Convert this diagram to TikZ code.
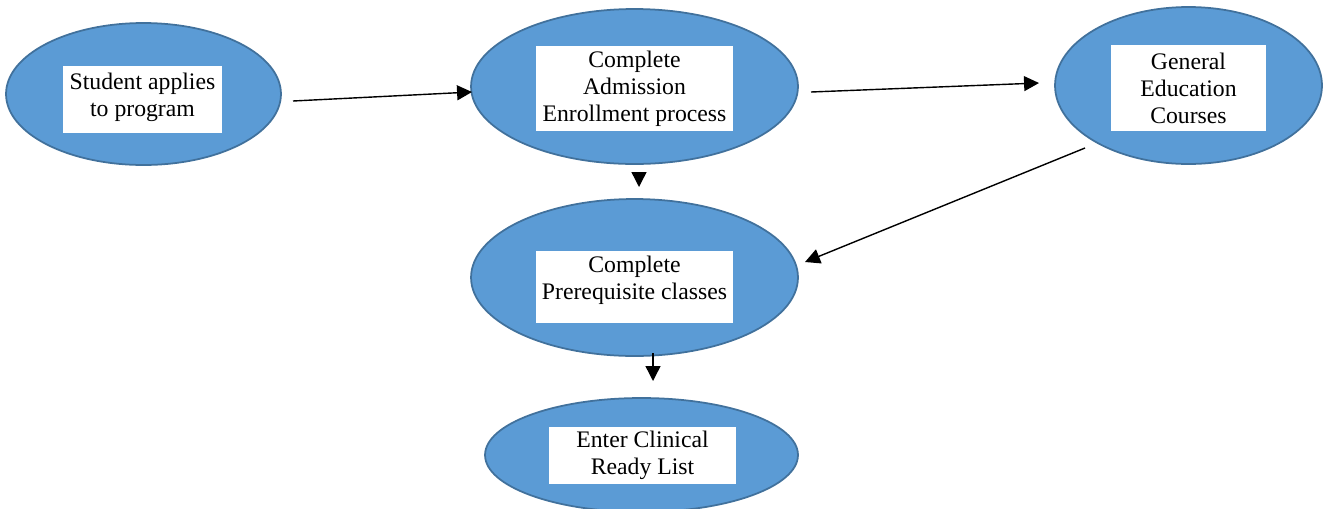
\documentclass[tikz,border=0pt]{standalone}
\usepackage{fontspec}
\setmainfont{Liberation Serif}
\usetikzlibrary{shapes.geometric,arrows.meta}
\definecolor{ovalfill}{HTML}{5B9BD5}
\definecolor{ovaldraw}{HTML}{41719C}

\begin{document}
\begin{tikzpicture}[x=0.02cm,y=-0.02cm,
    oval/.style={ellipse, draw=ovaldraw, fill=ovalfill, line width=1pt, inner sep=0pt},
    txtbox/.style={fill=white, align=center, inner sep=0pt, font=\fontsize{13.5}{15.4}\selectfont},
    flow/.style={-{Triangle[length=8.5pt,width=8.5pt]}, line width=0.8pt}]
    \useasboundingbox (0,0) rectangle (1328,508);

    % ovals
    \node[oval, minimum width=5.5cm, minimum height=2.84cm] (apply) at (143.5,94) {};
    \node[oval, minimum width=6.54cm, minimum height=3.1cm] (admit) at (634.5,86.5) {};
    \node[oval, minimum width=5.34cm, minimum height=3.14cm] (gened) at (1188.5,85.5) {};
    \node[oval, minimum width=6.54cm, minimum height=3.14cm] (prereq) at (634.5,277.5) {};
    \node[oval, minimum width=6.26cm, minimum height=2.28cm] (clinic) at (641.5,455) {};

    % white text boxes
    \node[txtbox, minimum width=3.18cm, minimum height=1.34cm, text depth=5pt] (applytxt) at (142.5,99.5)
        {Student applies\\to program};
    \node[txtbox, minimum width=3.94cm, minimum height=1.7cm] (admittxt) at (634.5,88.5)
        {Complete\\Admission\\Enrollment process};
    \node[txtbox, minimum width=3.1cm, minimum height=1.72cm] (genedtxt) at (1188.5,88)
        {General\\Education\\Courses};
    \node[txtbox, minimum width=3.94cm, minimum height=1.44cm, text depth=10pt] (prereqtxt) at (634.5,287)
        {Complete\\Prerequisite classes};
    \node[txtbox, minimum width=3.74cm, minimum height=1.14cm] (clinictxt) at (642.5,455.5)
        {Enter Clinical\\Ready List};

    % arrow ends
    \coordinate (p1) at (293,101);
    \coordinate (q1) at (472,92);
    \coordinate (p2) at (811,92);
    \coordinate (q2) at (1039,83);
    \coordinate (p3) at (639,172);
    \coordinate (q3) at (639,187);
    \coordinate (p4) at (1085,148);
    \coordinate (q4) at (805,262);
    \coordinate (p5) at (653,353);
    \coordinate (q5) at (653,381);

    \draw[flow] (p1) -- (q1);
    \draw[flow] (p2) -- (q2);
    \draw[flow] (p3) -- (q3);
    \draw[flow] (p4) -- (q4);
    \draw[flow] (p5) -- (q5);
\end{tikzpicture}
\end{document}
